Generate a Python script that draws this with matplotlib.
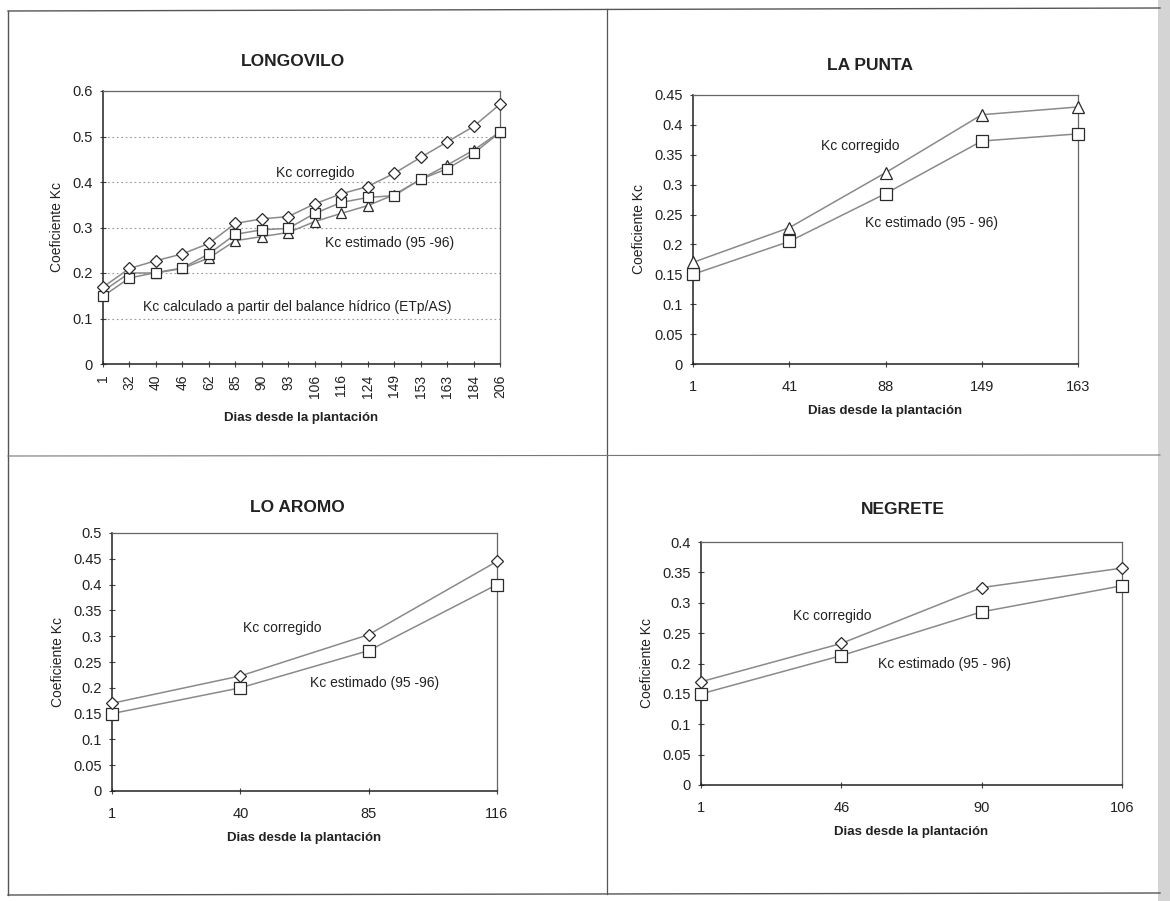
import matplotlib
matplotlib.use("Agg")
import matplotlib.pyplot as plt
from matplotlib.lines import Line2D
from matplotlib.patches import Rectangle
import numpy as np

plt.rcParams['font.family'] = ['Liberation Sans', 'DejaVu Sans']

# ---------------- data ----------------
longovilo_days = ["1", "32", "40", "46", "62", "85", "90", "93", "106", "116", "124", "149", "153", "163", "184", "206"]
longovilo_corregido = [0.169, 0.21, 0.227, 0.242, 0.265, 0.309, 0.319, 0.324, 0.352, 0.374, 0.39, 0.419, 0.454, 0.488, 0.522, 0.571]
longovilo_estimado = [0.149, 0.189, 0.201, 0.211, 0.242, 0.285, 0.295, 0.298, 0.331, 0.355, 0.366, 0.370, 0.406, 0.429, 0.463, 0.509]
longovilo_calculado = [0.16, 0.2, 0.2, 0.21, 0.233, 0.271, 0.28, 0.289, 0.313, 0.331, 0.348, 0.372, 0.406, 0.437, 0.47, 0.51]

lapunta_days = ["1", "41", "88", "149", "163"]
lapunta_corregido = [0.17, 0.228, 0.32, 0.417, 0.43]
lapunta_estimado = [0.15, 0.205, 0.285, 0.373, 0.385]

loaromo_days = ["1", "40", "85", "116"]
loaromo_corregido = [0.17, 0.223, 0.303, 0.445]
loaromo_estimado = [0.15, 0.2, 0.272, 0.4]

negrete_days = ["1", "46", "90", "106"]
negrete_corregido = [0.17, 0.233, 0.325, 0.357]
negrete_estimado = [0.15, 0.213, 0.285, 0.328]

W, H = 1170, 901
fig = plt.figure(figsize=(W / 100, H / 100), dpi=100)
fig.patch.set_facecolor('white')


def px_axes(left, top, right, bottom):
    return fig.add_axes([left / W, 1 - bottom / H, (right - left) / W, (bottom - top) / H])


def ftext(x, y, s, **kw):
    fig.text(x / W, 1 - y / H, s, **kw)


LINE = '#8a8a8a'
EDGE = '#2a2a2a'
TXT = '#222'
TICK_FS = 10.5
NOTE_FS = 10
TITLE_FS = 12.5
LABEL_FS = 9.5


def style_axes(ax, n, ymax, ystep, grid=False):
    ax.set_xlim(0, n - 1)
    ax.set_ylim(0, ymax)
    yt = np.round(np.arange(0, ymax + ystep / 2, ystep), 3)
    ax.set_yticks(yt)
    ax.set_yticklabels([('%g' % v) for v in yt], fontsize=TICK_FS, color=TXT)
    ax.tick_params(axis='both', direction='inout', length=5, width=0.8, color='#444', pad=5)
    for side in ['left', 'bottom']:
        ax.spines[side].set_color('#222')
        ax.spines[side].set_linewidth(1.1)
    for side in ['top', 'right']:
        ax.spines[side].set_color('#666')
        ax.spines[side].set_linewidth(0.9)
    if grid:
        ax.yaxis.grid(True, linestyle=(0, (1.5, 2.5)), color='#999', linewidth=0.8)
        ax.set_axisbelow(True)
    ax.set_ylabel('Coeficiente Kc', fontsize=10, color=TXT, labelpad=6)


def series(ax, vals, marker, ms=7):
    ax.plot(range(len(vals)), vals, color=LINE, linewidth=1.1, marker=marker,
            markersize=ms, markerfacecolor='white', markeredgecolor=EDGE,
            markeredgewidth=0.9, clip_on=False, zorder=3)


# ---------------- LONGOVILO ----------------
ax1 = px_axes(103, 91, 500, 364)
style_axes(ax1, len(longovilo_days), 0.6, 0.1, grid=True)
series(ax1, longovilo_calculado, '^', 7.5)
series(ax1, longovilo_estimado, 's', 7.5)
series(ax1, longovilo_corregido, 'D', 6)
ax1.set_xticks(range(len(longovilo_days)))
ax1.set_xticklabels(longovilo_days, rotation=90, fontsize=10, color=TXT)
ax1.set_xlabel('Dias desde la plantación', fontsize=LABEL_FS, fontweight='bold', color=TXT, labelpad=10)
ftext(293, 62, 'LONGOVILO', ha='center', va='center', fontsize=TITLE_FS, fontweight='bold', color=TXT)
ftext(315, 173, 'Kc corregido', ha='center', va='center', fontsize=NOTE_FS, color=TXT)
ftext(390, 243, 'Kc estimado (95 -96)', ha='center', va='center', fontsize=NOTE_FS, color=TXT)
ftext(297, 307, 'Kc calculado a partir del balance hídrico (ETp/AS)', ha='center', va='center', fontsize=NOTE_FS, color=TXT)

# ---------------- LA PUNTA ----------------
ax2 = px_axes(693, 95, 1078, 364)
style_axes(ax2, len(lapunta_days), 0.45, 0.05)
series(ax2, lapunta_estimado, 's', 8.5)
series(ax2, lapunta_corregido, '^', 8.5)
ax2.set_xticks(range(len(lapunta_days)))
ax2.set_xticklabels(lapunta_days, fontsize=TICK_FS, color=TXT)
ax2.tick_params(axis='x', pad=9)
ax2.set_xlabel('Dias desde la plantación', fontsize=LABEL_FS, fontweight='bold', color=TXT, labelpad=8)
ftext(870, 65, 'LA PUNTA', ha='center', va='center', fontsize=TITLE_FS, fontweight='bold', color=TXT)
ftext(860, 146, 'Kc corregido', ha='center', va='center', fontsize=NOTE_FS, color=TXT)
ftext(932, 223, 'Kc estimado (95 - 96)', ha='center', va='center', fontsize=NOTE_FS, color=TXT)

# ---------------- LO AROMO ----------------
ax3 = px_axes(112, 533, 497, 791)
style_axes(ax3, len(loaromo_days), 0.5, 0.05)
series(ax3, loaromo_estimado, 's', 8.5)
series(ax3, loaromo_corregido, 'D', 6.5)
ax3.set_xticks(range(len(loaromo_days)))
ax3.set_xticklabels(loaromo_days, fontsize=TICK_FS, color=TXT)
ax3.tick_params(axis='x', pad=9)
ax3.set_xlabel('Dias desde la plantación', fontsize=LABEL_FS, fontweight='bold', color=TXT, labelpad=8)
ftext(297, 508, 'LO AROMO', ha='center', va='center', fontsize=TITLE_FS, fontweight='bold', color=TXT)
ftext(282, 628, 'Kc corregido', ha='center', va='center', fontsize=NOTE_FS, color=TXT)
ftext(375, 683, 'Kc estimado (95 -96)', ha='center', va='center', fontsize=NOTE_FS, color=TXT)

# ---------------- NEGRETE ----------------
ax4 = px_axes(701, 542, 1122, 785)
style_axes(ax4, len(negrete_days), 0.4, 0.05)
series(ax4, negrete_estimado, 's', 8.5)
series(ax4, negrete_corregido, 'D', 6.5)
ax4.set_xticks(range(len(negrete_days)))
ax4.set_xticklabels(negrete_days, fontsize=TICK_FS, color=TXT)
ax4.tick_params(axis='x', pad=9)
ax4.set_xlabel('Dias desde la plantación', fontsize=LABEL_FS, fontweight='bold', color=TXT, labelpad=8)
ftext(903, 510, 'NEGRETE', ha='center', va='center', fontsize=TITLE_FS, fontweight='bold', color=TXT)
ftext(832, 616, 'Kc corregido', ha='center', va='center', fontsize=NOTE_FS, color=TXT)
ftext(945, 664, 'Kc estimado (95 - 96)', ha='center', va='center', fontsize=NOTE_FS, color=TXT)

# ---------------- panel frame ----------------
def fline(xs, ys, **kw):
    fig.add_artist(Line2D([x / W for x in xs], [1 - y / H for y in ys], **kw))

fline([8, 1160], [11, 8], color='#555', linewidth=1.0)
fline([8, 8], [11, 895], color='#555', linewidth=1.0)
fline([8, 1160], [895, 893], color='#555', linewidth=1.0)
fline([607, 607], [9, 894], color='#555', linewidth=0.9)
fline([8, 1160], [456, 455], color='#777', linewidth=0.8)

# scan edge shading on the right
fig.add_artist(Rectangle((1158 / W, 0), 12 / W, 1, transform=fig.transFigure,
                         facecolor='#d4d4d4', edgecolor='none'))

fig.savefig('out.png', dpi=100, facecolor='white')
